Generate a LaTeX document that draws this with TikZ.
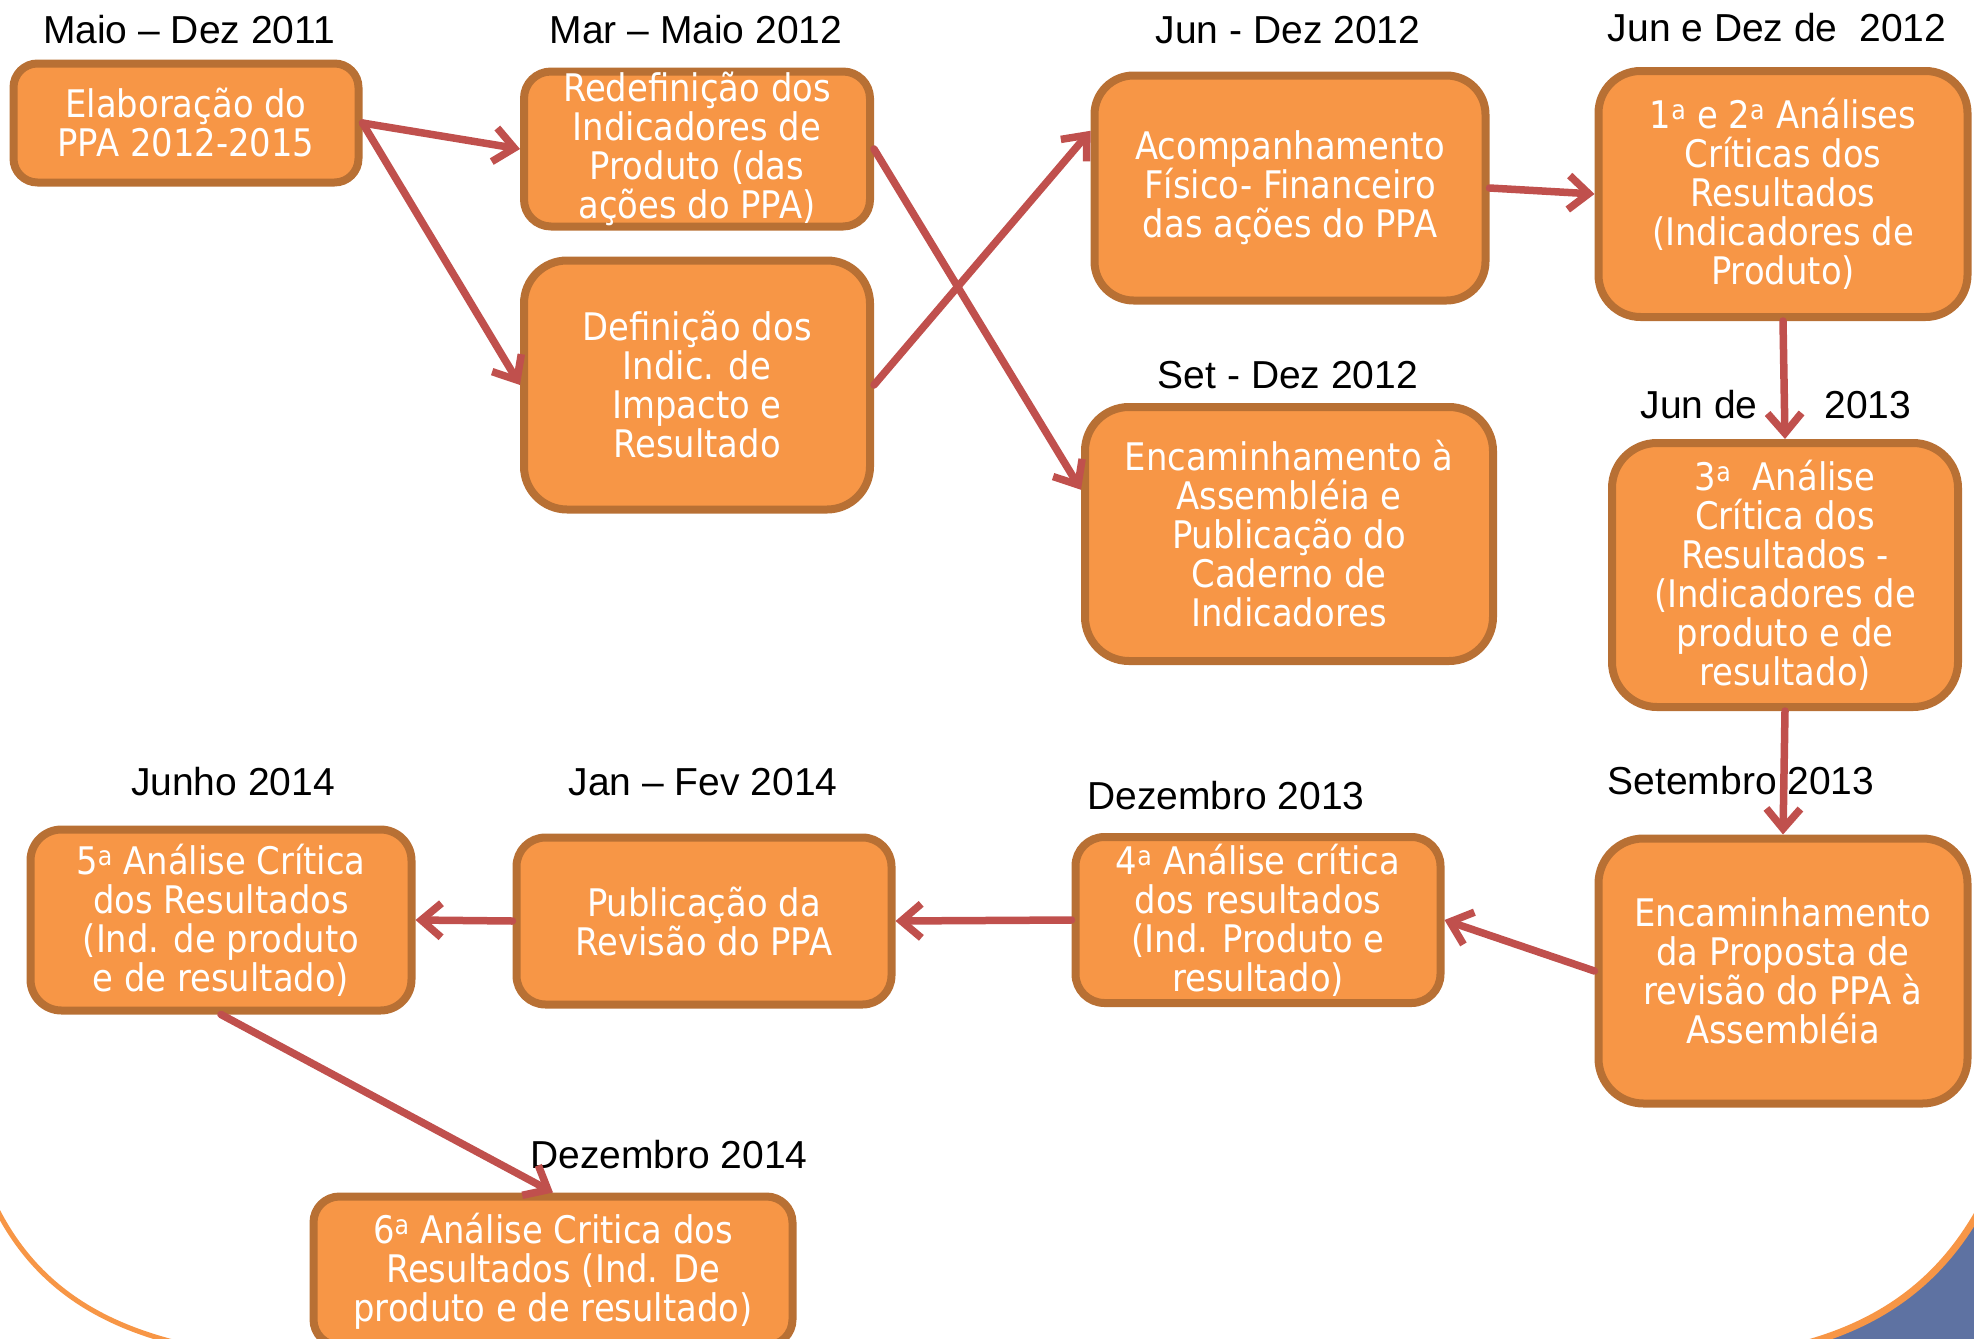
\documentclass[tikz,border=0pt]{standalone}
\usepackage{fontspec}
\setmainfont{Liberation Sans}
\newfontfamily\caixafont{DejaVu Sans}[FakeStretch=0.89]
\usepackage{tikz}
\usetikzlibrary{arrows.meta}
\definecolor{laranja}{HTML}{F79646}
\definecolor{marrom}{HTML}{B87034}
\definecolor{vermelho}{HTML}{C0504D}
\definecolor{azul}{HTML}{5E72A2}
\newcommand{\ordA}{\textsuperscript{a}}

\begin{document}
\begin{tikzpicture}[x=1pt,y=-1pt,
	etapa/.style={draw=marrom,fill=laranja,line width=8pt,text=white,align=center,inner sep=0pt,font=\caixafont\fontsize{38}{39}\selectfont},
	data/.style={inner sep=0pt,font=\fontsize{39}{44}\selectfont},
	seta/.style={color=vermelho,line width=7.5pt,line cap=round,-{Straight Barb[length=20pt,width=34pt]}}]
	
	\path[use as bounding box,clip] (0,0) rectangle (1974,1339);
	
	\fill[azul] (1990,1190) .. controls (1945,1285) and (1874,1328) .. (1789,1348) -- (1990,1348) -- cycle;
	\draw[laranja,line width=7pt] (1990,1190) .. controls (1945,1285) and (1874,1328) .. (1789,1348);
	\draw[laranja,line width=5pt] (-10,1195) .. controls (30,1285) and (100,1325) .. (185,1345);
	
	\node[data] (dmaio11) at (189, 30) {Maio -- Dez 2011};
	\node[data] (dmar12) at (696, 30) {Mar -- Maio 2012};
	\node[data] (djun12) at (1288, 30) {Jun - Dez 2012};
	\node[data] (djundez12) at (1777, 28) {Jun e Dez de~ 2012};
	\node[data] (dset12) at (1288, 375) {Set - Dez 2012};
	\node[data] (djun13) at (1776, 405) {Jun de\hspace{67pt}2013};
	\node[data] (dset13) at (1741, 781) {Setembro 2013};
	\node[data] (ddez13) at (1226, 796) {Dezembro 2013};
	\node[data] (djan14) at (703, 782) {Jan -- Fev 2014};
	\node[data] (djun14) at (233, 782) {Junho 2014};
	\node[data] (ddez14) at (669, 1155) {Dezembro 2014};
	
	\node[etapa,minimum width=345,minimum height=119,rounded corners=24] (elab) at (186, 123) {Elaboração do\\PPA 2012-2015};
	\node[etapa,minimum width=346,minimum height=155,rounded corners=27] (redef) at (697, 149) {Redefinição dos\\Indicadores de\\Produto (das\\ações do PPA)};
	\node[etapa,minimum width=346,minimum height=249,rounded corners=43] (defin) at (697, 385) {Definição dos\\Indic. de\\Impacto e\\Resultado};
	\node[etapa,minimum width=391,minimum height=225,rounded corners=39] (acomp) at (1290, 188) {Acompanhamento\\Físico- Financeiro\\das ações do PPA};
	\node[etapa,minimum width=408,minimum height=254,rounded corners=44] (assemb) at (1289, 534) {Encaminhamento à\\Assembléia e\\Publicação do\\Caderno de\\Indicadores};
	\node[etapa,minimum width=369,minimum height=246,rounded corners=42] (analise12) at (1783, 194) {1\ordA{} e 2\ordA{} Análises\\Críticas dos\\Resultados\\(Indicadores de\\Produto)};
	\node[etapa,minimum width=346,minimum height=264,rounded corners=45] (analise3) at (1785, 575) {3\ordA~ Análise\\Crítica dos\\Resultados -\\(Indicadores de\\produto e de\\resultado)};
	\node[etapa,minimum width=369,minimum height=265,rounded corners=45] (proposta) at (1783, 971) {Encaminhamento\\da Proposta de\\revisão do PPA à\\Assembléia};
	\node[etapa,minimum width=365,minimum height=166,rounded corners=29] (analise4) at (1258, 920) {4\ordA{} Análise crítica\\dos resultados\\(Ind. Produto e\\resultado)};
	\node[etapa,minimum width=375,minimum height=167,rounded corners=29] (publica) at (704, 921) {Publicação da\\Revisão do PPA};
	\node[etapa,minimum width=381,minimum height=181,rounded corners=31] (analise5) at (221, 920) {5\ordA{} Análise Crítica\\dos Resultados\\(Ind. de produto\\e de resultado)};
	\node[etapa,minimum width=479,minimum height=149,rounded corners=26] (analise6) at (553, 1271) {6\ordA{} Análise Critica dos\\Resultados (Ind. De\\produto e de resultado)};
	
	\path[seta] (elab.east) edge (redef.west);
	\path[seta] (elab.east) edge (defin.west);
	\path[seta] (redef.east) edge (assemb.168);
	\path[seta] (defin.east) edge (acomp.164);
	\path[seta] (acomp.east) edge (analise12.west);
	\path[seta] (analise12.south) edge (analise3.north);
	\path[seta] (analise3.south) edge (proposta.north);
	\path[seta] (proposta.west) edge (analise4.east);
	\path[seta] (analise4.west) edge (publica.east);
	\path[seta] (publica.west) edge (analise5.east);
	\path[seta] (analise5.south) edge (analise6.north);
	
\end{tikzpicture}
\end{document}
